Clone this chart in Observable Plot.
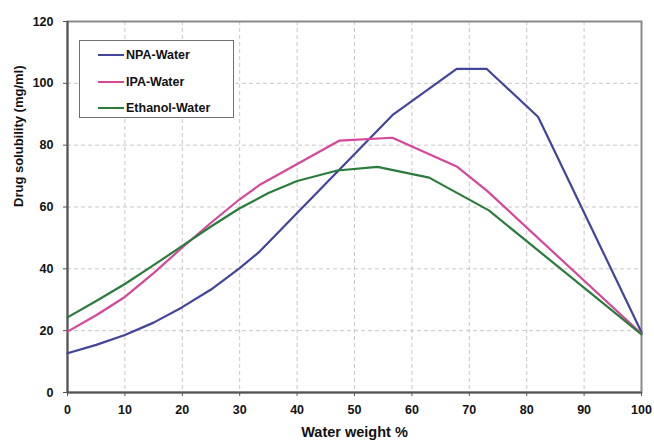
<!DOCTYPE html>
<html>
<head>
<meta charset="utf-8">
<script src="https://cdn.jsdelivr.net/npm/d3@7"></script>
<script src="https://cdn.jsdelivr.net/npm/@observablehq/plot@0.6"></script>
<style>
  html, body { margin: 0; padding: 0; background: #fff; }
  #wrap { position: relative; width: 654px; height: 445px; font-family: "Liberation Sans", Arial, sans-serif; }
  #legend {
    position: absolute; left: 79px; top: 40px; width: 155px; height: 78px;
    border: 1.5px solid #707070; background: #fff; box-sizing: border-box;
    font-weight: bold; font-size: 12.5px; color: #111;
  }
  #legend .row { position: absolute; left: 18px; height: 16px; display: flex; align-items: center; }
  #legend .sw { width: 26px; height: 2px; margin-right: 2px; }
</style>
</head>
<body>
<div id="wrap"></div>
<script>
// Drug solubility (mg/ml) vs water weight % for three solvent–water mixtures
const series = ["NPA-Water", "IPA-Water", "Ethanol-Water"];
const colors = ["#43449c", "#d6479a", "#2b7c3c"];

const npaX = [0, 5, 10, 15, 20, 25, 30, 33.3, 56.6, 67.8, 73, 82, 100];
const npaY = [12.7, 15.4, 18.6, 22.6, 27.6, 33.3, 40.2, 45.3, 89.7, 104.7, 104.7, 89.1, 19.5];

const ipaX = [0, 5, 10, 15, 20, 25, 30, 33.6, 47.4, 56.6, 67.9, 73.1, 100];
const ipaY = [19.7, 25.0, 30.9, 38.6, 46.9, 54.9, 62.5, 67.3, 81.5, 82.4, 73.0, 65.2, 19.0];

const ethX = [0, 5, 10, 15, 20, 25, 30, 35, 40, 47, 54, 63, 73.4, 100];
const ethY = [24.3, 29.6, 35.1, 41.2, 47.4, 53.7, 59.6, 64.5, 68.4, 71.8, 73.0, 69.5, 58.9, 18.8];

const xTicks = [0, 10, 20, 30, 40, 50, 60, 70, 80, 90, 100];
const yTicks = [0, 20, 40, 60, 80, 100, 120];

const rows = [];
[[npaX, npaY], [ipaX, ipaY], [ethX, ethY]].forEach(([xs, ys], i) => {
  xs.forEach((x, j) => rows.push({series: series[i], x, y: ys[j]}));
});

const gridStyle = {stroke: "#ccc6c6", strokeOpacity: 1, strokeDasharray: "4,3", strokeWidth: 1};

const chart = Plot.plot({
  width: 654,
  height: 445,
  marginLeft: 67,
  marginRight: 13,
  marginTop: 21,
  marginBottom: 53,
  style: {fontFamily: "'Liberation Sans', Arial, sans-serif", fontSize: "12.5px", fontWeight: "bold", color: "#111", background: "#fff"},
  x: {domain: [0, 100]},
  y: {domain: [0, 120]},
  color: {domain: series, range: colors},
  marks: [
    Plot.gridX(xTicks.filter(d => d > 0 && d < 100), gridStyle),
    Plot.gridY(yTicks.filter(d => d > 0 && d < 120), gridStyle),
    Plot.frame({stroke: "#8a8a8a", strokeWidth: 2}),
    Plot.axisX(xTicks, {tickSize: 4, tickPadding: 9, label: null, stroke: "#555"}),
    Plot.axisY(yTicks, {tickSize: 4, tickPadding: 10, label: null, stroke: "#555"}),
    Plot.ruleX([0], {stroke: "#555", strokeWidth: 2}),
    Plot.ruleY([0], {stroke: "#555", strokeWidth: 2}),
    Plot.line(rows, {x: "x", y: "y", z: "series", stroke: "series", strokeWidth: 2.2}),
    Plot.text(["Water weight %"], {frameAnchor: "bottom", dy: 44, fontWeight: "bold", fontSize: 14.5}),
    Plot.text(["Drug solubility (mg/ml)"], {frameAnchor: "left", dx: -49, rotate: -90, fontWeight: "bold", fontSize: 13})
  ]
});

const wrap = document.getElementById("wrap");
wrap.appendChild(chart);

// Legend box drawn over the plot area
const legend = document.createElement("div");
legend.id = "legend";
series.forEach((name, i) => {
  const row = document.createElement("div");
  row.className = "row";
  row.style.top = (6 + i * 26.5) + "px";
  const sw = document.createElement("span");
  sw.className = "sw";
  sw.style.background = colors[i];
  const label = document.createElement("span");
  label.textContent = name;
  row.appendChild(sw);
  row.appendChild(label);
  legend.appendChild(row);
});
wrap.appendChild(legend);
</script>
</body>
</html>
